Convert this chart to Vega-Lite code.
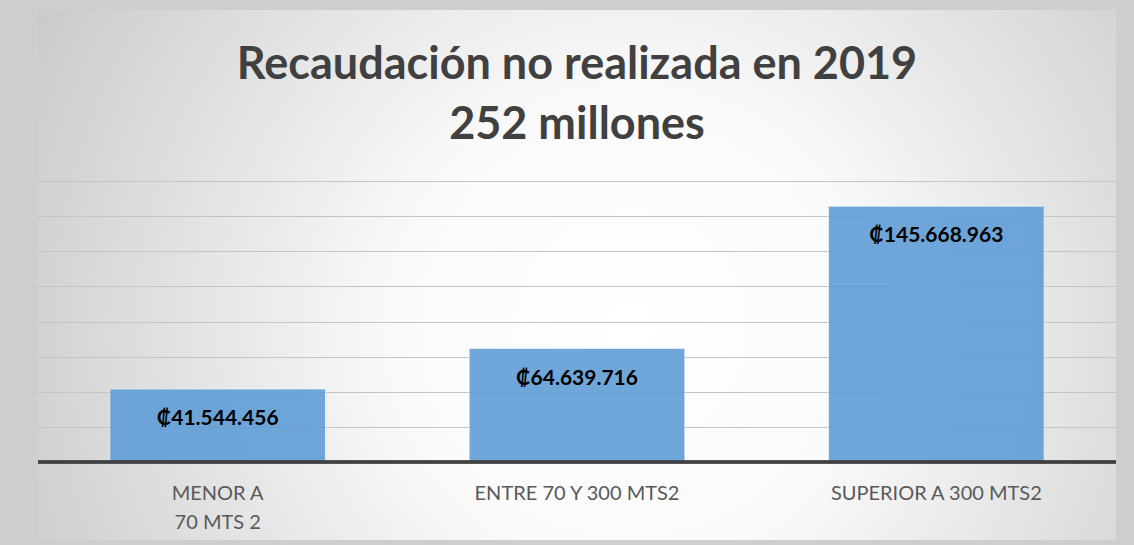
{
  "$schema": "https://vega.github.io/schema/vega-lite/v6.json",
  "width": 1078,
  "height": 530,
  "autosize": {"type": "none"},
  "padding": {"left": 38, "top": 10, "right": 18, "bottom": 5},
  "background": "#cecece",
  "title": {
    "text": ["Recaudación no realizada en 2019", "252 millones"],
    "font": "Lato",
    "fontSize": 45,
    "fontWeight": "bold",
    "color": "#404040",
    "lineHeight": 60,
    "anchor": "middle",
    "frame": "group",
    "offset": -138
  },
  "data": {
    "values": [
      {"categoria": "MENOR A 70 MTS 2", "valor": 41544456, "etiqueta": "₡41.544.456"},
      {"categoria": "ENTRE 70 Y 300 MTS2", "valor": 64639716, "etiqueta": "₡64.639.716"},
      {"categoria": "SUPERIOR A 300 MTS2", "valor": 145668963, "etiqueta": "₡145.668.963"}
    ]
  },
  "encoding": {
    "x": {
      "field": "categoria",
      "type": "nominal",
      "sort": null,
      "scale": {"paddingInner": 0.4, "paddingOuter": 0.2},
      "axis": {
        "title": null,
        "ticks": false,
        "domain": false,
        "labelAngle": 0,
        "labelFont": "Lato",
        "labelFontSize": 20,
        "labelColor": "#595959",
        "labelBaseline": "top",
        "labelLineHeight": 29,
        "labelPadding": 0,
        "labelLimit": 400,
        "offset": -57,
        "labelExpr": "datum.value == 'MENOR A 70 MTS 2' ? ['MENOR A', '70 MTS 2'] : datum.value"
      }
    }
  },
  "layer": [
    {
      "mark": {"type": "bar", "fill": "#5b9bd5", "fillOpacity": 0.88, "stroke": "#ffffff", "strokeOpacity": 0.6, "strokeWidth": 1},
      "encoding": {
        "y": {
          "field": "valor",
          "type": "quantitative",
          "scale": {"domain": [-44400000, 257400000], "nice": false, "zero": false},
          "axis": {
            "title": null,
            "labels": false,
            "ticks": false,
            "domain": false,
            "grid": true,
            "gridColor": "#c4c4c4",
            "gridWidth": 1,
            "values": [20000000, 40000000, 60000000, 80000000, 100000000, 120000000, 140000000, 160000000]
          }
        }
      }
    },
    {
      "mark": {"type": "rule", "color": "#404040", "strokeWidth": 3},
      "encoding": {"y": {"datum": 0, "type": "quantitative"}, "x": null}
    },
    {
      "mark": {"type": "text", "font": "Lato", "fontSize": 21, "fontWeight": "bold", "color": "#000000", "baseline": "middle", "dy": 30},
      "encoding": {
        "y": {"field": "valor", "type": "quantitative"},
        "text": {"field": "etiqueta"}
      }
    }
  ],
  "config": {
    "view": {
      "stroke": null,
      "fill": {
        "gradient": "radial",
        "x1": 0.55, "y1": 0.55, "r1": 0,
        "x2": 0.55, "y2": 0.55, "r2": 0.72,
        "stops": [
          {"offset": 0, "color": "#ffffff"},
          {"offset": 0.3, "color": "#fafafa"},
          {"offset": 1, "color": "#bfbfbf"}
        ]
      }
    }
  }
}
